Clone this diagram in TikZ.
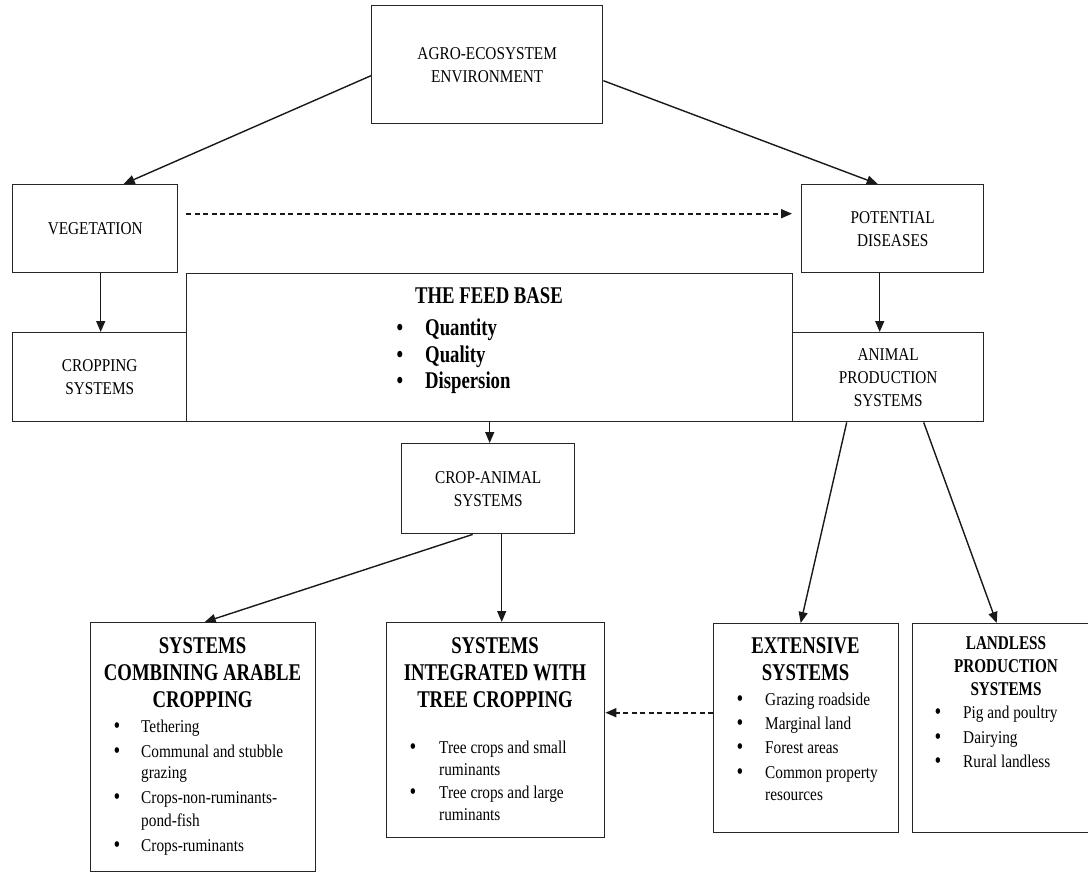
\documentclass[tikz,border=0pt]{standalone}
\usepackage{fontspec}
\setmainfont{Liberation Serif}
\newfontfamily\rmx{Liberation Serif}[FakeStretch=0.85]
\newfontfamily\bfx{Liberation Serif}[FakeStretch=0.78]
\usetikzlibrary{arrows.meta,calc}
\tikzset{
  box/.style={draw=black!85, line width=1.4pt, inner sep=0pt, anchor=north west,
    align=center, font=\rmx\fontsize{18}{23}\selectfont},
  arr/.style={draw=black!90, line width=1.4pt, -{Triangle[length=11pt,width=9pt]}},
  darr/.style={arr, line width=1.7pt, dash pattern=on 5pt off 3.5pt},
  itm/.style={anchor=base west, inner sep=0pt, font=\rmx\fontsize{18}{23}\selectfont},
  bul/.style={anchor=base, inner sep=0pt, font=\bfx\bfseries\fontsize{21}{23}\selectfont},
  hd/.style={anchor=base, inner sep=0pt, font=\bfx\bfseries\fontsize{24}{27}\selectfont},
  hds/.style={anchor=base, inner sep=0pt, font=\bfx\bfseries\fontsize{19.5}{23}\selectfont},
  fbt/.style={anchor=base west, inner sep=0pt, font=\bfx\bfseries\fontsize{24}{27}\selectfont},
  fbb/.style={anchor=base, inner sep=0pt, font=\bfx\bfseries\fontsize{24}{27}\selectfont},
}
\begin{document}
\begin{tikzpicture}[x=1pt, y=-1pt]
\useasboundingbox (0,0) rectangle (1088,872);
\clip (0,0) rectangle (1088,872);
\fill[white] (0,0) rectangle (1088,872);

% boxes
\node[box, minimum width=231pt, minimum height=118pt] (agro) at (371,5) {AGRO-ECOSYSTEM\\ENVIRONMENT};
\node[box, minimum width=165pt, minimum height=88pt] (veg) at (12,184) {VEGETATION};
\node[box, minimum width=182pt, minimum height=88pt] (pot) at (801,184) {POTENTIAL\\DISEASES};
\node[box, minimum width=174pt, minimum height=89pt] (crop) at (12,332) {CROPPING\\SYSTEMS};
\node[box, minimum width=606pt, minimum height=148pt] (feed) at (186,273) {};
\node[box, minimum width=191pt, minimum height=89pt] (anim) at (792,332) {ANIMAL\\PRODUCTION\\SYSTEMS};
\node[box, minimum width=173pt, minimum height=90pt] (ca) at (401,443) {CROP-ANIMAL\\SYSTEMS};
\node[box, minimum width=225pt, minimum height=249pt] (comb) at (90,622) {};
\node[box, minimum width=218pt, minimum height=215pt] (tree) at (386,622) {};
\node[box, minimum width=185pt, minimum height=209pt] (ext) at (713,623) {};
\node[box, minimum width=190pt, minimum height=209pt] (land) at (912,623) {};

% feed base text
\node[fbb] (fb-h) at (489,303) {THE FEED BASE};
\foreach \n/\y/\t in {1/335/Quantity, 2/362/Quality, 3/388/Dispersion}{
  \node[fbb] (fb-b\n) at (400,\y) {\textbullet};
  \node[fbt] (fb-t\n) at (425,\y) {\t};
}

% combining arable cropping
\foreach \n/\y/\t in {1/653/SYSTEMS, 2/680/COMBINING ARABLE, 3/707/CROPPING}{
  \node[hd] (cb-h\n) at (202.5,\y) {\t};
}
\foreach \n/\y in {1/732, 2/757, 3/803, 4/851}{
  \node[bul] (cb-b\n) at (117,\y) {\textbullet};
}
\foreach \n/\y/\t in {1/732/Tethering, 2/757/Communal and stubble, 3/778/grazing,
  4/803/Crops-non-ruminants-, 5/826/pond-fish, 6/851/Crops-ruminants}{
  \node[itm] (cb-t\n) at (141,\y) {\t};
}

% tree cropping
\foreach \n/\y/\t in {1/653/SYSTEMS, 2/680/INTEGRATED WITH, 3/707/TREE CROPPING}{
  \node[hd] (tr-h\n) at (495,\y) {\t};
}
\foreach \n/\y in {1/753, 2/798}{
  \node[bul] (tr-b\n) at (413,\y) {\textbullet};
}
\foreach \n/\y/\t in {1/753/Tree crops and small, 2/775/ruminants,
  3/798/Tree crops and large, 4/820/ruminants}{
  \node[itm] (tr-t\n) at (439,\y) {\t};
}

% extensive
\foreach \n/\y/\t in {1/653/EXTENSIVE, 2/680/SYSTEMS}{
  \node[hd] (ex-h\n) at (805.5,\y) {\t};
}
\foreach \n/\y in {1/705, 2/729, 3/753, 4/778}{
  \node[bul] (ex-b\n) at (740,\y) {\textbullet};
}
\foreach \n/\y/\t in {1/705/Grazing roadside, 2/729/Marginal land, 3/753/Forest areas,
  4/778/Common property, 5/800/resources}{
  \node[itm] (ex-t\n) at (765,\y) {\t};
}

% landless
\foreach \n/\y/\t in {1/649/LANDLESS, 2/672/PRODUCTION, 3/695/SYSTEMS}{
  \node[hds] (ld-h\n) at (1006,\y) {\t};
}
\foreach \n/\y/\t in {1/718/Pig and poultry, 2/743/Dairying, 3/767/Rural landless}{
  \node[bul] (ld-b\n) at (938,\y) {\textbullet};
  \node[itm] (ld-t\n) at (963,\y) {\t};
}

% connectors
\draw[arr] ([yshift=-11pt]agro.west) -- ([xshift=28.5pt]veg.north);
\draw[arr] ([yshift=-16pt]agro.east) -- ([xshift=-15pt]pot.north);
\draw[darr, shorten <=8pt, shorten >=9pt] ([yshift=15pt]veg.east) -- ([yshift=15pt]veg.east -| pot.west);
\draw[arr] ([xshift=5.5pt]veg.south) -- ([xshift=5.5pt]veg.south |- crop.north);
\draw[arr] ([xshift=-13pt]pot.south) -- ([xshift=-13pt]pot.south |- anim.north);
\draw[arr] (feed.south) -- (feed.south |- ca.north);
\draw[arr] ([xshift=-15.5pt]ca.south) -- ([xshift=1.5pt]comb.north);
\draw[arr] ([xshift=13.5pt]ca.south) -- ([xshift=13.5pt]ca.south |- tree.north);
\draw[arr] ([xshift=-41.5pt]anim.south) -- ([xshift=-5.5pt]ext.north);
\draw[arr] ([xshift=35.5pt]anim.south) -- ([xshift=-11pt]land.north);
\draw[darr] ([yshift=15.5pt]ext.west) -- ([yshift=15.5pt]ext.west -| tree.east);
\end{tikzpicture}
\end{document}
